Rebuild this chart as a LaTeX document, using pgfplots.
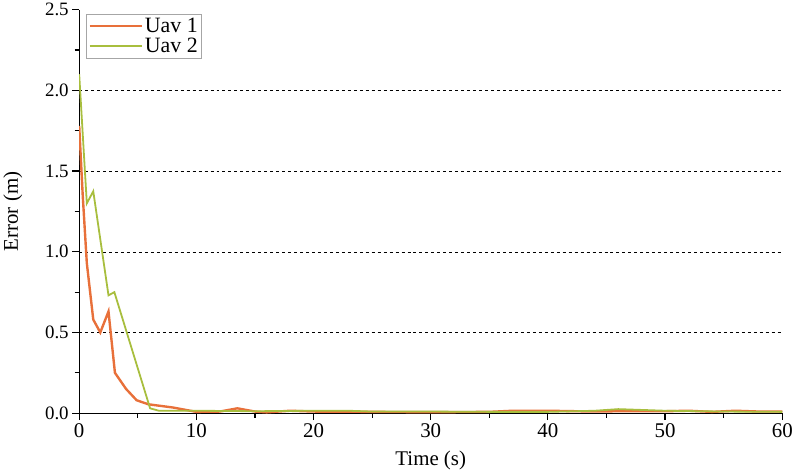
\documentclass[border=0pt]{standalone}
\usepackage{fontspec}
\setmainfont{Liberation Serif}
\usepackage{pgfplots}
\pgfplotsset{compat=1.18}
\definecolor{uavone}{RGB}{232,112,58}
\definecolor{uavtwo}{RGB}{168,190,62}
\begin{document}
\begin{tikzpicture}
\begin{axis}[
    scale only axis,
    width=704bp, height=404bp,
    xmin=0, xmax=60, ymin=0, ymax=2.5,
    axis x line*=bottom, axis y line*=left,
    axis line style={line width=1.3pt, -},
    xtick={0,10,...,60}, ytick={0,0.5,...,2.5},
    minor xtick={5,15,...,55}, minor ytick={0.25,0.75,...,2.25},
    tick align=outside, tick style={black, line width=1.2pt},
    major tick length=7bp, minor tick length=4.5bp,
    yticklabel style={/pgf/number format/fixed, /pgf/number format/fixed zerofill, /pgf/number format/precision=1,
        font=\fontsize{19}{22}\selectfont},
    xticklabel style={font=\fontsize{21}{24}\selectfont},
    /pgf/number format/assume math mode=true,
    extra y ticks={0.5,1,1.5,2}, extra y tick labels={},
    extra y tick style={grid=major, major tick length=0pt, grid style={black, dashed, line width=0.5pt}},
    xlabel={Time (s)}, ylabel={Error (m)},
    label style={font=\fontsize{21}{24}\selectfont},
    xlabel style={yshift=-6bp}, ylabel style={yshift=9bp},
    legend style={at={(0.01,0.99)}, anchor=north west, draw=gray!70, line width=0.6pt,
        font=\fontsize{22}{25}\selectfont, inner sep=2bp},
    legend cell align={left},
    legend image code/.code={\draw[#1] (0bp,0bp) -- (52bp,0bp);},
]
\addplot[uavone, line width=2.4pt] coordinates {
(0,1.78)(0.3,1.35)(0.65,0.93)(1.2,0.58)(1.8,0.50)(2.5,0.63)(3.05,0.25)(4,0.15)(4.9,0.08)
(5.9,0.055)(8,0.035)(10,0.008)(12,0.01)(13.5,0.03)(15,0.01)(16,0.005)(18,0.015)(20,0.01)
(25,0.008)(30,0.006)(35,0.008)(37,0.015)(40,0.015)(44,0.01)(46,0.012)(50,0.012)(52,0.015)
(54,0.008)(56,0.015)(58,0.01)(60,0.01)
};
\addlegendentry{Uav 1}
\addplot[uavtwo, line width=1.8pt] coordinates {
(0,2.1)(0.65,1.30)(1.2,1.375)(2.5,0.73)(3,0.75)(6.05,0.03)(6.8,0.015)(10,0.015)(15,0.012)
(20,0.015)(23,0.015)(25,0.01)(30,0.01)(35,0.008)(40,0.008)(44,0.015)(46,0.025)(48,0.02)
(50,0.015)(55,0.01)(60,0.008)
};
\addlegendentry{Uav 2}
\end{axis}
\end{tikzpicture}
\end{document}
